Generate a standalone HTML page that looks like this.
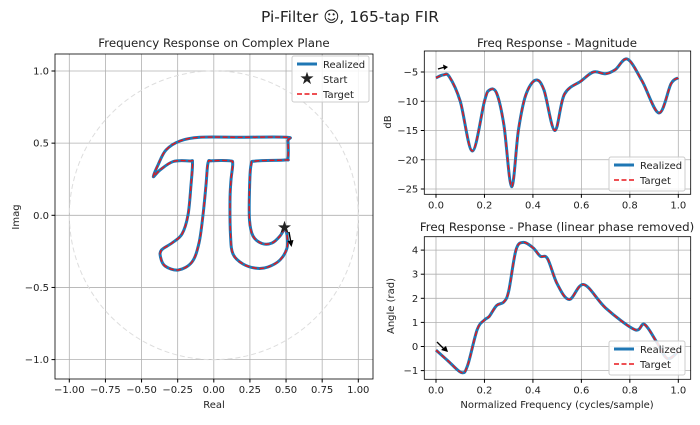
<!DOCTYPE html>
<html><head><meta charset="utf-8"><style>
body{margin:0;background:#fff;}
svg text{font-family:"DejaVu Sans","Liberation Sans",sans-serif;fill:#222;}
</style></head><body>
<svg id="s" width="700" height="420" xmlns="http://www.w3.org/2000/svg">
<text x="350" y="22" font-size="15.5" text-anchor="middle">Pi-Filter ☺, 165-tap FIR</text>
<text x="214" y="47" font-size="11.8" text-anchor="middle">Frequency Response on Complex Plane</text>
<text x="557" y="47" font-size="11.8" text-anchor="middle">Freq Response - Magnitude</text>
<text x="557" y="231" font-size="11.8" text-anchor="middle">Freq Response - Phase (linear phase removed)</text>
<g id="g"></g>
</svg>
<script>
const g=document.getElementById('g');let h='';
function cr(p){let d='M'+p[0][0]+','+p[0][1];for(let i=0;i<p.length-1;i++){const a=p[Math.max(0,i-1)],b=p[i],c=p[i+1],e=p[Math.min(p.length-1,i+2)];d+=` C${b[0]+(c[0]-a[0])/6},${b[1]+(c[1]-a[1])/6} ${c[0]-(e[0]-b[0])/6},${c[1]-(e[1]-b[1])/6} ${c[0]},${c[1]}`;}return d;}
function series(d){h+=`<path d="${d}" fill="none" stroke="#1f77b4" stroke-width="3"/><path d="${d}" fill="none" stroke="#e8161b" stroke-width="1.4" stroke-dasharray="5,2.5"/>`;}
function legend(x,y,w,star){let H=star?46:34;h+=`<rect x="${x}" y="${y}" width="${w}" height="${H}" fill="#fff" fill-opacity="0.85" stroke="#ccc" rx="2"/>`;
h+=`<line x1="${x+5}" x2="${x+25}" y1="${y+8}" y2="${y+8}" stroke="#1f77b4" stroke-width="3"/><text x="${x+31}" y="${y+12}" font-size="10">Realized</text>`;
let ty=y+23;if(star){h+=`<text x="${x+15}" y="${y+28}" font-size="17" text-anchor="middle" fill="#000">★</text><text x="${x+31}" y="${y+27}" font-size="10">Start</text>`;ty=y+38;}
h+=`<line x1="${x+5}" x2="${x+25}" y1="${ty}" y2="${ty}" stroke="#e8161b" stroke-width="1.4" stroke-dasharray="5,2.5"/><text x="${x+31}" y="${ty+4}" font-size="10">Target</text>`;}
let L=55,R=373,T=54,B=379;
for(let v=-1;v<=1.001;v+=0.25){let x=213.8+v*144.5;h+=`<line x1="${x}" x2="${x}" y1="${T}" y2="${B}" stroke="#b0b0b0" stroke-width="0.8"/><line x1="${x}" x2="${x}" y1="${B}" y2="${B+3.5}" stroke="#000"/><text x="${x}" y="${B+14}" font-size="10" text-anchor="middle">${v<0?'−':''}${Math.abs(v).toFixed(2)}</text>`;}
for(let v=-1;v<=1.001;v+=0.5){let y=215.3-v*144.3;h+=`<line x1="${L}" x2="${R}" y1="${y}" y2="${y}" stroke="#b0b0b0" stroke-width="0.8"/><line x1="${L-3.5}" x2="${L}" y1="${y}" y2="${y}" stroke="#000"/><text x="${L-6}" y="${y+3.5}" font-size="10" text-anchor="end">${v<0?'−':''}${Math.abs(v).toFixed(1)}</text>`;}
h+=`<circle cx="213.8" cy="215.3" r="144.4" fill="none" stroke="#ddd" stroke-dasharray="5,3"/>`;
let pi=[[285,227.7],[287,235],[287,248],[280,260],[268,267],[256.7,268.3],[243,264],[233,254],[230.5,235],[230,200],[231,180],[232.7,164],[230,160.8],[212,160.8],[208,163],[206,185],[203,215],[199,243],[192,262],[178.3,270],[165,266],[160.5,257],[161.5,250],[172,243],[182,234],[188,215],[191,185],[192.5,163],[190,161],[173.3,161.5],[160,170],[153.3,176.7],[158,165],[166,150],[180,141],[200,137.3],[240,137.3],[286.5,137.3],[288,141],[288,158],[285,160],[256,161],[251,165],[249.5,190],[249.5,220],[253,236],[262,243.5],[272,243],[280,236],[285,227.7]];
series(cr(pi));
h+=`<rect x="${L}" y="${T}" width="${R-L}" height="${B-T}" fill="none" stroke="#000" stroke-width="0.8"/>`;
h+=`<text x="284.5" y="233" font-size="17" text-anchor="middle" fill="#000">★</text><line x1="289" y1="232" x2="291" y2="243" stroke="#000" stroke-width="1.4"/><path d="M287.5,241 L291.5,247 L293.5,240 Z" fill="#000"/>`;
legend(292,56,77,true);
h+=`<text x="214" y="408" font-size="10" text-anchor="middle">Real</text><text transform="translate(19,217) rotate(-90)" font-size="10" text-anchor="middle">Imag</text>`;
function axes(T,B,fy,yt,pts){let L=424.3,R=690.7;
for(let v=0;v<=1.001;v+=0.2){let x=436+v*242.3;h+=`<line x1="${x}" x2="${x}" y1="${T}" y2="${B}" stroke="#b0b0b0" stroke-width="0.8"/><line x1="${x}" x2="${x}" y1="${B}" y2="${B+3.5}" stroke="#000"/><text x="${x}" y="${B+14}" font-size="10" text-anchor="middle">${v.toFixed(1)}</text>`;}
for(const v of yt){let y=fy(v);h+=`<line x1="${L}" x2="${R}" y1="${y}" y2="${y}" stroke="#b0b0b0" stroke-width="0.8"/><line x1="${L-3.5}" x2="${L}" y1="${y}" y2="${y}" stroke="#000"/><text x="${L-6}" y="${y+3.5}" font-size="10" text-anchor="end">${v<0?'−':''}${Math.abs(v)}</text>`;}
series(cr(pts.map(p=>[436+p[0]*242.3,fy(p[1])])));
h+=`<rect x="${L}" y="${T}" width="${R-L}" height="${B-T}" fill="none" stroke="#000" stroke-width="0.8"/>`;}
let m=[[0,-6],[0.03,-5.5],[0.055,-5.8],[0.1,-10],[0.15,-18.5],[0.2,-10],[0.22,-8.1],[0.25,-8.6],[0.28,-14],[0.312,-24.6],[0.34,-15],[0.37,-9],[0.41,-6.4],[0.445,-8],[0.49,-15],[0.53,-8.8],[0.6,-6.5],[0.65,-5],[0.7,-5.3],[0.74,-4.6],[0.79,-2.8],[0.85,-6.5],[0.92,-12],[0.97,-7],[1,-6]];
axes(51,194.3,v=>72+(v+5)*-5.85,[-5,-10,-15,-20,-25],m);
let p=[[0,-0.15],[0.05,-0.6],[0.105,-1.08],[0.13,-0.8],[0.17,0.7],[0.2,1.1],[0.22,1.25],[0.25,1.7],[0.28,1.85],[0.3,2.3],[0.33,4.0],[0.36,4.32],[0.4,4.1],[0.43,3.75],[0.46,3.65],[0.5,2.6],[0.55,1.95],[0.61,2.57],[0.7,1.6],[0.82,0.7],[0.86,0.92],[0.91,0.2],[0.955,-0.5],[1,-0.2]];
axes(236.7,379.3,v=>346.5-v*24.1,[4,3,2,1,0,-1],p);
legend(609,157,76,false);legend(609,341,76,false);
h+=`<line x1="438" y1="69" x2="445" y2="67" stroke="#000" stroke-width="1.3"/><path d="M443,64.5 L448,67 L444,70 Z" fill="#000"/>`;
h+=`<line x1="437" y1="342" x2="444" y2="349" stroke="#000" stroke-width="1.3"/><path d="M441,350 L448,352 L446,346 Z" fill="#000"/>`;
h+=`<text transform="translate(391,122) rotate(-90)" font-size="10" text-anchor="middle">dB</text><text transform="translate(394,306) rotate(-90)" font-size="10" text-anchor="middle">Angle (rad)</text><text x="557" y="408" font-size="10" text-anchor="middle">Normalized Frequency (cycles/sample)</text>`;
g.innerHTML=h;
</script>
</body></html>
